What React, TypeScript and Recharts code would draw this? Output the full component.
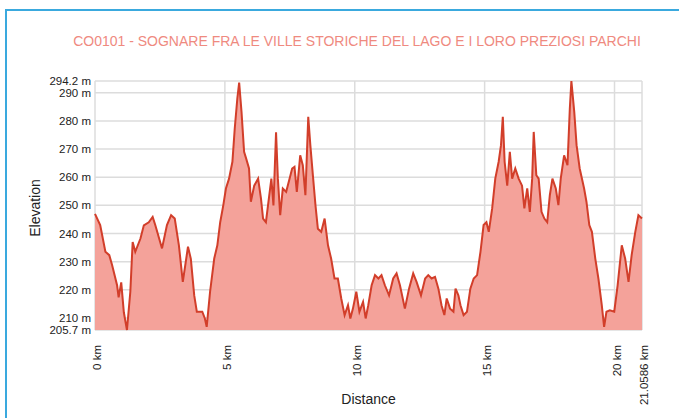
import React from 'react'
import { AreaChart, Area, XAxis, YAxis, CartesianGrid } from 'recharts'

const TITLE = 'CO0101 - SOGNARE FRA LE VILLE STORICHE DEL LAGO E I LORO PREZIOSI PARCHI'

// profile: distance (km) and elevation (m)
const distanceKm = [
  0, 0.2, 0.4, 0.55, 0.66, 0.85, 0.91, 1.01, 1.11, 1.23, 1.36, 1.45, 1.55, 1.75, 1.88,
  2.07, 2.22, 2.32, 2.58, 2.77, 2.93, 3.07, 3.23, 3.38, 3.58, 3.69, 3.82, 3.92, 4.13,
  4.23, 4.3, 4.43, 4.59, 4.71, 4.82, 4.94, 5.04, 5.16, 5.29, 5.38, 5.48, 5.55, 5.64,
  5.74, 5.82, 5.93, 6.0, 6.13, 6.28, 6.39, 6.47, 6.58, 6.71, 6.79, 6.87, 6.97, 7.04,
  7.13, 7.23, 7.36, 7.49, 7.59, 7.68, 7.77, 7.9, 8.0, 8.1, 8.21, 8.29, 8.39, 8.49,
  8.58, 8.71, 8.84, 8.97, 9.09, 9.22, 9.35, 9.48, 9.61, 9.74, 9.83, 9.93, 10.06,
  10.18, 10.32, 10.42, 10.52, 10.65, 10.78, 10.91, 11.03, 11.16, 11.32, 11.48, 11.61,
  11.74, 11.93, 12.09, 12.25, 12.38, 12.55, 12.71, 12.83, 12.96, 13.09, 13.22, 13.34,
  13.45, 13.54, 13.67, 13.8, 13.88, 13.99, 14.07, 14.19, 14.32, 14.45, 14.58, 14.71,
  14.84, 14.96, 15.07, 15.16, 15.29, 15.41, 15.54, 15.63, 15.7, 15.77, 15.87, 15.97,
  16.06, 16.18, 16.31, 16.44, 16.53, 16.64, 16.74, 16.83, 16.89, 16.99, 17.08, 17.19,
  17.3, 17.41, 17.51, 17.61, 17.74, 17.84, 17.93, 18.06, 18.19, 18.28, 18.34, 18.45,
  18.54, 18.66, 18.83, 18.92, 19.03, 19.13, 19.26, 19.38, 19.51, 19.6, 19.69, 19.82,
  19.99, 20.12, 20.28, 20.41, 20.54, 20.66, 20.8, 20.92, 21.0586,
]

const elevationM = [
  247, 243, 233.5, 232.3, 228.7, 221.6, 217.3, 222.6, 212, 205.7, 219.3, 237, 233.5, 238.2, 242.9,
  244, 245.9, 243, 234.7, 243, 246.5, 245.3, 235.8, 222.8, 235.3, 231, 218, 212.2, 212.2,
  209.8, 206.8, 219.3, 231.1, 235.8, 244, 250.1, 256, 259.5, 265.5, 277.3, 288, 293.6, 283.3,
  269, 266.6, 263.1, 251.3, 257, 259.5, 252.4, 245.3, 244, 253.6, 259.5, 250, 276, 259.5,
  246.5, 256, 254.8, 259.5, 263.1, 263.7, 254.8, 267.8, 264.3, 253.6, 281.5, 271.4, 260.5, 249.8,
  241.7, 240.6, 245.3, 235.8, 231.1, 224, 224, 216.9, 211, 214.5, 209.8, 213.3, 219.3,
  212.2, 215.7, 209.8, 214.5, 221.6, 225.2, 224, 225.2, 221.6, 218, 224, 225.8,
  221.6, 213.3, 220.4, 225.8, 222.8, 218, 224, 225.2, 224, 224.6, 220.4, 214.5,
  211, 216.9, 213.3, 212.2, 220.4, 218, 214.5, 211, 212.2, 220.4, 224, 225.2,
  233.5, 243, 244, 240.6, 248.9, 259.5, 265.5, 271.4, 281.5, 265.5, 257, 269,
  259.5, 263.1, 259.5, 257, 248.9, 256, 247.7, 259.5, 276.1, 260.7, 259.5, 247.7,
  245.3, 244, 253.6, 259.5, 256, 250.1, 259.5, 267.8, 264.3, 284.4, 294.2, 283.3,
  271.4, 263.1, 256, 251.3, 243, 240.6, 231.1, 224, 214.5, 206.8, 212.2, 212.7,
  212.2, 221.6, 235.8, 231.1, 222.8, 232.3, 240.6, 246.5, 245.3,
]

const xTicks = [0, 5, 10, 15, 20, 21.0586]
const yTicks = [205.7, 210, 220, 230, 240, 250, 260, 270, 280, 290, 294.2]

const data = distanceKm.map((km, i) => ({ km, elevation: elevationM[i] }))

const XTick = (props: any) => {
  const { x, y, payload } = props
  const tx = x + 2
  const ty = y + 7
  return (
    <text
      x={tx}
      y={ty}
      transform={`rotate(-90, ${tx}, ${ty})`}
      textAnchor="end"
      dy="0.35em"
      fontSize={11.5}
      fill="#222"
    >
      {`${payload.value} km`}
    </text>
  )
}

const ElevationLabel = () => (
  <text
    x={35}
    y={208}
    transform="rotate(-90, 35, 208)"
    textAnchor="middle"
    dy="0.35em"
    fontSize={14}
    fill="#222"
  >
    Elevation
  </text>
)

export default function App() {
  return (
    <div
      style={{
        position: 'absolute',
        left: 0,
        top: 0,
        width: 679,
        height: 418,
        overflow: 'hidden',
        background: '#fff',
        fontFamily: '"Liberation Sans", Arial, sans-serif',
      }}
    >
      <div
        style={{
          position: 'absolute',
          left: 5,
          top: 9,
          width: 700,
          height: 420,
          borderLeft: '2px solid #3aa9de',
          borderTop: '2px solid #3aa9de',
        }}
      />
      <div
        style={{
          position: 'absolute',
          left: 0,
          top: 33,
          width: 714,
          textAlign: 'center',
          fontSize: 14,
          color: '#ef8a7f',
        }}
      >
        {TITLE}
      </div>
      <div style={{ position: 'absolute', left: 0, top: 0 }}>
        <AreaChart width={679} height={418} data={data} margin={{ top: 81, right: 37, bottom: 0, left: 0 }}>
          <CartesianGrid stroke="#dcdcdc" strokeWidth={1.5} />
          <XAxis
            dataKey="km"
            type="number"
            domain={[0, 21.0586]}
            ticks={xTicks}
            interval={0}
            height={88}
            tickLine={false}
            axisLine={false}
            tick={<XTick />}
            label={{ value: 'Distance', position: 'insideBottom', offset: 14, fontSize: 14, fill: '#222' }}
          />
          <YAxis
            type="number"
            domain={[205.7, 294.2]}
            ticks={yTicks}
            interval={0}
            width={95}
            tickLine={false}
            axisLine={false}
            tickSize={0}
            tickMargin={4}
            tick={{ fontSize: 11.5, fill: '#222' }}
            tickFormatter={(v: number) => `${v} m`}
            label={{ content: () => <ElevationLabel /> }}
          />
          <Area
            type="linear"
            dataKey="elevation"
            stroke="#d23e2a"
            strokeWidth={2}
            fill="#f4a29a"
            fillOpacity={1}
            isAnimationActive={false}
            dot={false}
            activeDot={false}
          />
        </AreaChart>
      </div>
    </div>
  )
}
